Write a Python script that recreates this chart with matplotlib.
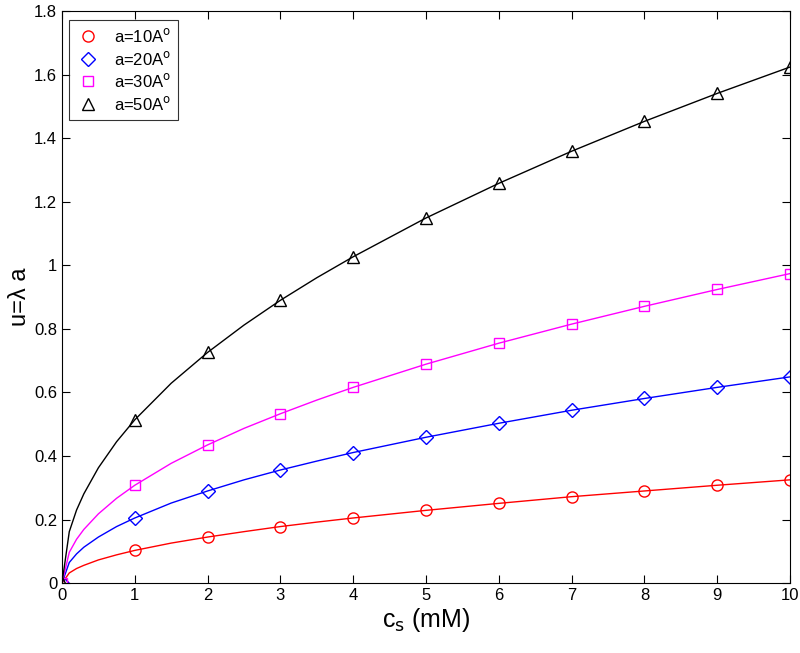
import numpy as np
import matplotlib.pyplot as plt

plt.rcParams['font.family'] = ['Liberation Sans', 'DejaVu Sans']

# marker points
cs = [0, 1, 2, 3, 4, 5, 6, 7, 8, 9, 10]
u10 = [0, 0.103, 0.145, 0.178, 0.205, 0.229, 0.251, 0.272, 0.290, 0.308, 0.325]
u20 = [0, 0.205, 0.290, 0.356, 0.411, 0.459, 0.503, 0.544, 0.581, 0.616, 0.649]
u30 = [0, 0.308, 0.435, 0.533, 0.616, 0.689, 0.755, 0.815, 0.871, 0.924, 0.974]
u50 = [0, 0.514, 0.726, 0.890, 1.027, 1.149, 1.258, 1.359, 1.453, 1.541, 1.624]

# extra points (steep part near zero)
cs_line = [0, 0.1, 0.2, 0.3, 0.5, 0.75, 1, 1.5, 2, 2.5, 3, 3.5, 4, 5, 6, 7, 8, 9, 10]
l10 = [0, 0.032, 0.046, 0.056, 0.073, 0.089, 0.103, 0.126, 0.145, 0.162, 0.178, 0.192,
       0.205, 0.229, 0.251, 0.272, 0.290, 0.308, 0.325]
l20 = [0, 0.065, 0.092, 0.113, 0.145, 0.178, 0.205, 0.252, 0.290, 0.325, 0.356, 0.384,
       0.411, 0.459, 0.503, 0.544, 0.581, 0.616, 0.649]
l30 = [0, 0.097, 0.138, 0.169, 0.218, 0.267, 0.308, 0.377, 0.435, 0.487, 0.533, 0.576,
       0.616, 0.689, 0.755, 0.815, 0.871, 0.924, 0.974]
l50 = [0, 0.162, 0.230, 0.281, 0.363, 0.445, 0.514, 0.629, 0.726, 0.812, 0.890, 0.961,
       1.027, 1.149, 1.258, 1.359, 1.453, 1.541, 1.624]

labels = ['a=10A$^{\\rm o}$', 'a=20A$^{\\rm o}$', 'a=30A$^{\\rm o}$', 'a=50A$^{\\rm o}$']
colors = ['#ff0000', '#0000ff', '#ff00ff', '#000000']
markers = ['o', 'D', 's', '^']
msizes = [8, 7, 7, 8]

fig = plt.figure(figsize=(8, 6.53), dpi=100)
ax = fig.add_axes([0.0775, 0.107, 0.91, 0.876])

for um, ul, lab, c, m, ms in zip([u10, u20, u30, u50], [l10, l20, l30, l50],
                                 labels, colors, markers, msizes):
    ax.plot(cs_line, ul, '-', color=c, lw=1)
    ax.plot(cs, um, linestyle='none', marker=m, markersize=ms, mfc='none',
            mec=c, mew=1, label=lab)

ax.set_xlim(0, 10)
ax.set_ylim(0, 1.8)
ax.set_xticks(range(0, 11))
ax.set_yticks(np.arange(0, 1.81, 0.2))
ax.set_yticklabels(['0', '0.2', '0.4', '0.6', '0.8', '1', '1.2', '1.4', '1.6', '1.8'])
ax.tick_params(direction='in', top=True, right=True, labelsize=12, length=6)

ax.set_xlabel('c$_{\\rm s}$ (mM)', fontsize=18, labelpad=2)
ax.set_ylabel('u=\u03bb a', fontsize=17, labelpad=2)

leg = ax.legend(loc='upper left', fontsize=12, frameon=True, fancybox=False,
                edgecolor='black', borderpad=0.4, labelspacing=0.28,
                handlelength=1.5, handletextpad=0.8, borderaxespad=0,
                bbox_to_anchor=(0.0095, 0.984))
leg.get_frame().set_linewidth(0.8)

fig.savefig('out.png', dpi=100)
